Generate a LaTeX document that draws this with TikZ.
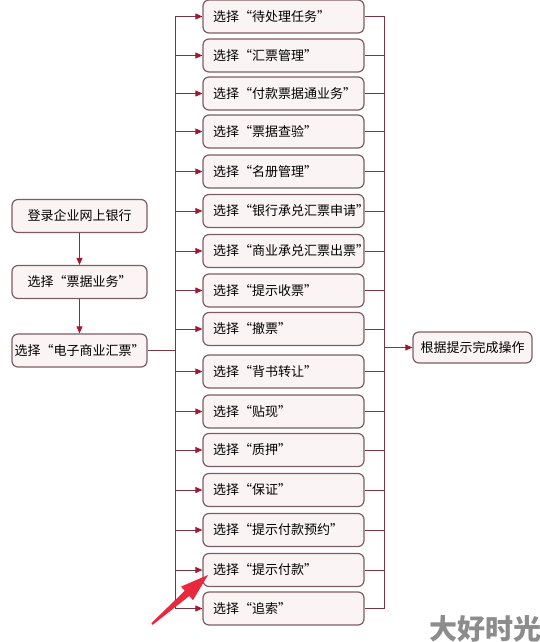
\documentclass[tikz,border=0pt]{standalone}
\usepackage{fontspec}
\setmainfont{Noto Sans CJK SC}
\newfontfamily\cjk{Noto Sans CJK SC}
\usetikzlibrary{arrows.meta}
\definecolor{boxline}{HTML}{7E5C64}
\definecolor{boxfill}{HTML}{FBF4F5}
\definecolor{conn}{HTML}{7A3444}
\definecolor{tip}{HTML}{A3182F}
\definecolor{hl}{HTML}{E8283C}
\definecolor{wm}{HTML}{8C8C8C}
\tikzset{
  box/.style={draw=boxline, fill=boxfill, line width=1.2pt, rounded corners=6pt,
    minimum height=33pt, font=\cjk\fontsize{13}{15}\selectfont, text=black, inner sep=0pt},
  lbox/.style={box, minimum width=135pt},
  mbox/.style={box, minimum width=161pt, text width=141pt, align=left},
  fbox/.style={box, minimum width=119pt, minimum height=31pt},
  conline/.style={draw=conn, line width=0.9pt},
  arr/.style={conline, -{Triangle[length=7pt,width=6pt,fill=tip,color=tip]}},
}
\begin{document}
\begin{tikzpicture}[x=1pt,y=-1pt]
\useasboundingbox (0,0) rectangle (540,642);
\fill[white] (0,0) rectangle (540,642);
% left column
\node[lbox] (b1) at (79.5,216) {登录企业网上银行};
\node[lbox] (b2) at (79.5,282) {选择“票据业务”};
\node[lbox] (b3) at (79.5,350.5) {选择“电子商业汇票”};
\draw[arr] (b1) -- (b2);
\draw[arr] (b2) -- (b3);
% middle column
\node[mbox] (m1) at (283.5,16.5) {选择“待处理任务”};
\node[mbox] (m2) at (283.5,55.5) {选择“汇票管理”};
\node[mbox] (m3) at (283.5,93.5) {选择“付款票据通业务”};
\node[mbox] (m4) at (283.5,131.5) {选择“票据查验”};
\node[mbox] (m5) at (283.5,171.5) {选择“名册管理”};
\node[mbox] (m6) at (283.5,211) {选择“银行承兑汇票申请”};
\node[mbox] (m7) at (283.5,251) {选择“商业承兑汇票出票”};
\node[mbox] (m8) at (283.5,290.5) {选择“提示收票”};
\node[mbox] (m9) at (283.5,329) {选择“撤票”};
\node[mbox] (m10) at (283.5,371.5) {选择“背书转让”};
\node[mbox] (m11) at (283.5,411.5) {选择“贴现”};
\node[mbox] (m12) at (283.5,450) {选择“质押”};
\node[mbox] (m13) at (283.5,490) {选择“保证”};
\node[mbox] (m14) at (283.5,530) {选择“提示付款预约”};
\node[mbox] (m15) at (283.5,570) {选择“提示付款”};
\node[mbox] (m16) at (283.5,608.5) {选择“追索”};
% final
\node[fbox] (f) at (472.5,347.5) {根据提示完成操作};
% junctions
\coordinate (L) at (175,350.5);
\coordinate (R) at (384,347.5);
\draw[conline] (b3.east) -- (L);
\draw[conline] (L |- m1.west) -- (L |- m16.west);
\foreach \i in {1,...,16} {
  \draw[arr] (L |- m\i.west) -- (m\i.west);
  \draw[conline] (m\i.east) -- (R |- m\i.east);
}
\draw[conline] (R |- m1.east) -- (R |- m16.east);
\draw[arr] (R) -- (f.west);
% red pointer arrow
\coordinate (pt) at (208,575);
\fill[hl] (152.7,624.8) -- (189.3,596) -- (193,600.2) -- (pt) -- (181,586.6) -- (184.7,590.8) -- (151.3,623.2) -- cycle;
% watermark
\node[anchor=west, text=wm, font=\cjk\bfseries\fontsize{28}{30}\selectfont, inner sep=0pt] (wmk) at (429,629) {大好时光};
\end{tikzpicture}
\end{document}
